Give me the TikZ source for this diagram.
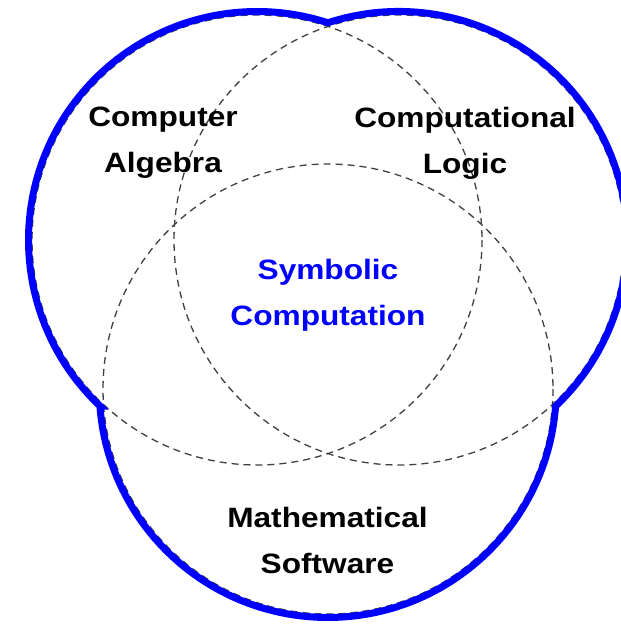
\documentclass[tikz,border=0pt]{standalone}
\usepackage{fontspec}
\setmainfont{Liberation Sans}[FakeStretch=1.13]
\definecolor{vblue}{RGB}{0,0,255}
\definecolor{dashgray}{gray}{0.25}
\begin{document}
\begin{tikzpicture}[x=1pt,y=-1pt,
  outerline/.style={draw=vblue,line width=7pt,line join=miter},
  dashcircle/.style={draw=dashgray,line width=1.3pt,dash pattern=on 7pt off 5pt},
  lbl/.style={align=center,font=\fontsize{28}{46}\selectfont\bfseries,text=black,inner sep=0pt},
  bluelbl/.style={lbl,text=vblue}]
\clip (0,0) rectangle (621,624);
\fill[white] (0,0) rectangle (621,624);
\coordinate (cL) at (257,240);
\coordinate (cR) at (399,240);
\coordinate (cB) at (328,389);
% dashed circles
\draw[dashcircle] (cL) circle[radius=225];
\draw[dashcircle] (cR) circle[radius=225];
\draw[dashcircle] (cB) circle[radius=225];
% thick blue outline of the union
\draw[outerline] (cL) ++(133.35:228.5)
  arc[start angle=133.35, end angle=288.07, radius=228.5]
  arc[start angle=251.93, end angle=406.65, radius=228.5]
  arc[start angle=4.31, end angle=175.69, radius=228.5] -- cycle;
% labels
\node[lbl] (ca) at (163,143) {Computer\\Algebra};
\node[lbl] (cl) at (465,143) {Computational\\Logic};
\node[bluelbl] (sc) at (328,295) {Symbolic\\Computation};
\node[lbl] (ms) at (327.5,540) {Mathematical\\Software};
\end{tikzpicture}
\end{document}
